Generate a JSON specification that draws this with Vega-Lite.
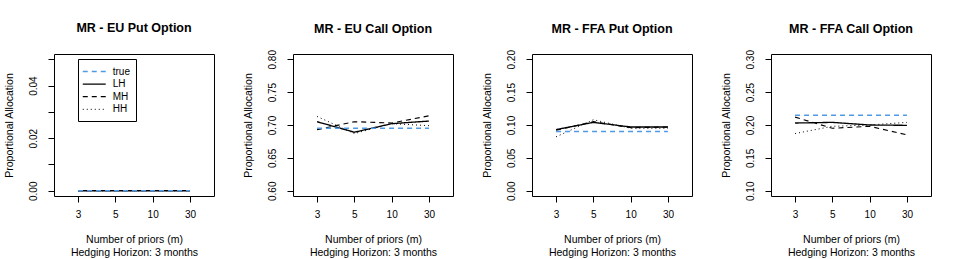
{
  "$schema": "https://vega.github.io/schema/vega-lite/v6.json",
  "padding": {"left": 3, "top": 21, "right": 0, "bottom": 0},
  "background": "white",
  "data": {"values": [
    {"panel": "EUPut", "series": "LH", "m": "3", "value": 0},
    {"panel": "EUPut", "series": "LH", "m": "5", "value": 0},
    {"panel": "EUPut", "series": "LH", "m": "10", "value": 0},
    {"panel": "EUPut", "series": "LH", "m": "30", "value": 0},
    {"panel": "EUPut", "series": "MH", "m": "3", "value": 0},
    {"panel": "EUPut", "series": "MH", "m": "5", "value": 0},
    {"panel": "EUPut", "series": "MH", "m": "10", "value": 0},
    {"panel": "EUPut", "series": "MH", "m": "30", "value": 0},
    {"panel": "EUPut", "series": "HH", "m": "3", "value": 0},
    {"panel": "EUPut", "series": "HH", "m": "5", "value": 0},
    {"panel": "EUPut", "series": "HH", "m": "10", "value": 0},
    {"panel": "EUPut", "series": "HH", "m": "30", "value": 0},
    {"panel": "EUPut", "series": "true", "m": "3", "value": 0},
    {"panel": "EUPut", "series": "true", "m": "5", "value": 0},
    {"panel": "EUPut", "series": "true", "m": "10", "value": 0},
    {"panel": "EUPut", "series": "true", "m": "30", "value": 0},

    {"panel": "EUCall", "series": "LH", "m": "3", "value": 0.705},
    {"panel": "EUCall", "series": "LH", "m": "5", "value": 0.689},
    {"panel": "EUCall", "series": "LH", "m": "10", "value": 0.702},
    {"panel": "EUCall", "series": "LH", "m": "30", "value": 0.706},
    {"panel": "EUCall", "series": "MH", "m": "3", "value": 0.693},
    {"panel": "EUCall", "series": "MH", "m": "5", "value": 0.705},
    {"panel": "EUCall", "series": "MH", "m": "10", "value": 0.703},
    {"panel": "EUCall", "series": "MH", "m": "30", "value": 0.714},
    {"panel": "EUCall", "series": "HH", "m": "3", "value": 0.713},
    {"panel": "EUCall", "series": "HH", "m": "5", "value": 0.687},
    {"panel": "EUCall", "series": "HH", "m": "10", "value": 0.702},
    {"panel": "EUCall", "series": "HH", "m": "30", "value": 0.699},
    {"panel": "EUCall", "series": "true", "m": "3", "value": 0.695},
    {"panel": "EUCall", "series": "true", "m": "5", "value": 0.695},
    {"panel": "EUCall", "series": "true", "m": "10", "value": 0.695},
    {"panel": "EUCall", "series": "true", "m": "30", "value": 0.695},

    {"panel": "FFAPut", "series": "LH", "m": "3", "value": 0.093},
    {"panel": "FFAPut", "series": "LH", "m": "5", "value": 0.104},
    {"panel": "FFAPut", "series": "LH", "m": "10", "value": 0.097},
    {"panel": "FFAPut", "series": "LH", "m": "30", "value": 0.097},
    {"panel": "FFAPut", "series": "MH", "m": "3", "value": 0.092},
    {"panel": "FFAPut", "series": "MH", "m": "5", "value": 0.105},
    {"panel": "FFAPut", "series": "MH", "m": "10", "value": 0.096},
    {"panel": "FFAPut", "series": "MH", "m": "30", "value": 0.097},
    {"panel": "FFAPut", "series": "HH", "m": "3", "value": 0.082},
    {"panel": "FFAPut", "series": "HH", "m": "5", "value": 0.108},
    {"panel": "FFAPut", "series": "HH", "m": "10", "value": 0.095},
    {"panel": "FFAPut", "series": "HH", "m": "30", "value": 0.095},
    {"panel": "FFAPut", "series": "true", "m": "3", "value": 0.09},
    {"panel": "FFAPut", "series": "true", "m": "5", "value": 0.09},
    {"panel": "FFAPut", "series": "true", "m": "10", "value": 0.09},
    {"panel": "FFAPut", "series": "true", "m": "30", "value": 0.09},

    {"panel": "FFACall", "series": "LH", "m": "3", "value": 0.203},
    {"panel": "FFACall", "series": "LH", "m": "5", "value": 0.204},
    {"panel": "FFACall", "series": "LH", "m": "10", "value": 0.2},
    {"panel": "FFACall", "series": "LH", "m": "30", "value": 0.1995},
    {"panel": "FFACall", "series": "MH", "m": "3", "value": 0.212},
    {"panel": "FFACall", "series": "MH", "m": "5", "value": 0.195},
    {"panel": "FFACall", "series": "MH", "m": "10", "value": 0.198},
    {"panel": "FFACall", "series": "MH", "m": "30", "value": 0.185},
    {"panel": "FFACall", "series": "HH", "m": "3", "value": 0.187},
    {"panel": "FFACall", "series": "HH", "m": "5", "value": 0.198},
    {"panel": "FFACall", "series": "HH", "m": "10", "value": 0.2},
    {"panel": "FFACall", "series": "HH", "m": "30", "value": 0.204},
    {"panel": "FFACall", "series": "true", "m": "3", "value": 0.215},
    {"panel": "FFACall", "series": "true", "m": "5", "value": 0.215},
    {"panel": "FFACall", "series": "true", "m": "10", "value": 0.215},
    {"panel": "FFACall", "series": "true", "m": "30", "value": 0.215}
  ]},
  "config": {
    "font": "Liberation Sans",
    "view": {"stroke": "black", "strokeWidth": 1},
    "axis": {"grid": false, "domain": false, "tickColor": "black", "labelColor": "black", "titleColor": "black", "labelFont": "Liberation Sans", "titleFont": "Liberation Sans", "labelFontSize": 10, "titleFontSize": 10.5, "titleFontWeight": "normal", "tickSize": 6},
    "axisX": {"labelAngle": 0, "labelPadding": 7, "titlePadding": 15, "titleLineHeight": 13},
    "axisY": {"labelAngle": -90, "labelAlign": "center", "labelBaseline": "bottom", "labelPadding": 10, "titlePadding": 14},
    "title": {"fontSize": 12.5, "font": "Liberation Sans", "fontWeight": "bold", "color": "black", "offset": 14},
    "line": {"strokeCap": "butt"}
  },
  "spacing": 79,
  "bounds": "flush",
  "resolve": {
    "scale": {"y": "independent", "color": "independent", "strokeDash": "independent", "strokeWidth": "independent"},
    "legend": {"color": "independent", "strokeDash": "independent", "strokeWidth": "independent"}
  },
  "hconcat": [
    {
      "title": {"text": "MR - EU Put Option", "offset": 20},
      "width": 160, "height": 142,
      "transform": [{"filter": "datum.panel == 'EUPut'"}],
      "mark": {"type": "line"},
      "encoding": {
        "x": {"field": "m", "type": "ordinal", "sort": ["3", "5", "10", "30"], "scale": {"type": "point", "padding": 0.645}, "axis": {"title": ["Number of priors (m)", "Hedging Horizon: 3 months"]}},
        "y": {"field": "value", "type": "quantitative", "scale": {"domain": [-0.002, 0.052], "nice": false, "zero": false}, "axis": {"title": "Proportional Allocation", "values": [0, 0.01, 0.02, 0.03, 0.04, 0.05], "labelExpr": "round(datum.value*100) % 2 == 0 ? format(datum.value, '.2f') : ''"}},
        "color": {"field": "series", "type": "nominal", "scale": {"domain": ["true", "LH", "MH", "HH"], "range": ["#4f9ae6", "black", "black", "black"]},
          "legend": {"orient": "none", "legendX": 24, "legendY": 5, "title": null, "symbolType": "M-2,0H2", "symbolSize": 132, "symbolFillColor": "transparent", "labelFontSize": 10, "labelFont": "Liberation Sans", "labelColor": "black", "strokeColor": "black", "fillColor": "white", "padding": 6, "symbolOffset": 3.75, "rowPadding": 0.6, "labelOffset": 12}},
        "strokeDash": {"field": "series", "type": "nominal", "scale": {"domain": ["true", "LH", "MH", "HH"], "range": [[5, 4], [1, 0], [5, 4], [1, 3]]},
          "legend": {"orient": "none", "legendX": 24, "legendY": 5, "title": null, "symbolType": "M-2,0H2", "symbolSize": 132, "symbolFillColor": "transparent", "labelFontSize": 10, "labelFont": "Liberation Sans", "labelColor": "black", "strokeColor": "black", "fillColor": "white", "padding": 6, "symbolOffset": 3.75, "rowPadding": 0.6, "labelOffset": 12}},
        "strokeWidth": {"field": "series", "type": "nominal", "scale": {"domain": ["true", "LH", "MH", "HH"], "range": [1.5, 1, 1, 1]},
          "legend": {"orient": "none", "legendX": 24, "legendY": 5, "title": null, "symbolType": "M-2,0H2", "symbolSize": 132, "symbolFillColor": "transparent", "labelFontSize": 10, "labelFont": "Liberation Sans", "labelColor": "black", "strokeColor": "black", "fillColor": "white", "padding": 6, "symbolOffset": 3.75, "rowPadding": 0.6, "labelOffset": 12}}
      }
    },
    {
      "title": "MR - EU Call Option",
      "width": 160, "height": 142,
      "transform": [{"filter": "datum.panel == 'EUCall'"}],
      "mark": {"type": "line"},
      "encoding": {
        "x": {"field": "m", "type": "ordinal", "sort": ["3", "5", "10", "30"], "scale": {"type": "point", "padding": 0.645}, "axis": {"title": ["Number of priors (m)", "Hedging Horizon: 3 months"]}},
        "y": {"field": "value", "type": "quantitative", "scale": {"domain": [0.592, 0.808], "nice": false, "zero": false}, "axis": {"title": "Proportional Allocation", "values": [0.6, 0.65, 0.7, 0.75, 0.8], "format": ".2f"}},
        "color": {"field": "series", "type": "nominal", "scale": {"domain": ["true", "LH", "MH", "HH"], "range": ["#4f9ae6", "black", "black", "black"]}, "legend": null},
        "strokeDash": {"field": "series", "type": "nominal", "scale": {"domain": ["true", "LH", "MH", "HH"], "range": [[5, 4], [1, 0], [5, 4], [1, 3]]}, "legend": null},
        "strokeWidth": {"field": "series", "type": "nominal", "scale": {"domain": ["true", "LH", "MH", "HH"], "range": [1.5, 1, 1, 1]}, "legend": null}
      }
    },
    {
      "title": "MR - FFA Put Option",
      "width": 160, "height": 142,
      "transform": [{"filter": "datum.panel == 'FFAPut'"}],
      "mark": {"type": "line"},
      "encoding": {
        "x": {"field": "m", "type": "ordinal", "sort": ["3", "5", "10", "30"], "scale": {"type": "point", "padding": 0.645}, "axis": {"title": ["Number of priors (m)", "Hedging Horizon: 3 months"]}},
        "y": {"field": "value", "type": "quantitative", "scale": {"domain": [-0.008, 0.208], "nice": false, "zero": false}, "axis": {"title": "Proportional Allocation", "values": [0, 0.05, 0.1, 0.15, 0.2], "format": ".2f"}},
        "color": {"field": "series", "type": "nominal", "scale": {"domain": ["true", "LH", "MH", "HH"], "range": ["#4f9ae6", "black", "black", "black"]}, "legend": null},
        "strokeDash": {"field": "series", "type": "nominal", "scale": {"domain": ["true", "LH", "MH", "HH"], "range": [[5, 4], [1, 0], [5, 4], [1, 3]]}, "legend": null},
        "strokeWidth": {"field": "series", "type": "nominal", "scale": {"domain": ["true", "LH", "MH", "HH"], "range": [1.5, 1, 1, 1]}, "legend": null}
      }
    },
    {
      "title": "MR - FFA Call Option",
      "width": 160, "height": 142,
      "transform": [{"filter": "datum.panel == 'FFACall'"}],
      "mark": {"type": "line"},
      "encoding": {
        "x": {"field": "m", "type": "ordinal", "sort": ["3", "5", "10", "30"], "scale": {"type": "point", "padding": 0.645}, "axis": {"title": ["Number of priors (m)", "Hedging Horizon: 3 months"]}},
        "y": {"field": "value", "type": "quantitative", "scale": {"domain": [0.092, 0.308], "nice": false, "zero": false}, "axis": {"title": "Proportional Allocation", "values": [0.1, 0.15, 0.2, 0.25, 0.3], "format": ".2f"}},
        "color": {"field": "series", "type": "nominal", "scale": {"domain": ["true", "LH", "MH", "HH"], "range": ["#4f9ae6", "black", "black", "black"]}, "legend": null},
        "strokeDash": {"field": "series", "type": "nominal", "scale": {"domain": ["true", "LH", "MH", "HH"], "range": [[5, 4], [1, 0], [5, 4], [1, 3]]}, "legend": null},
        "strokeWidth": {"field": "series", "type": "nominal", "scale": {"domain": ["true", "LH", "MH", "HH"], "range": [1.5, 1, 1, 1]}, "legend": null}
      }
    }
  ]
}
